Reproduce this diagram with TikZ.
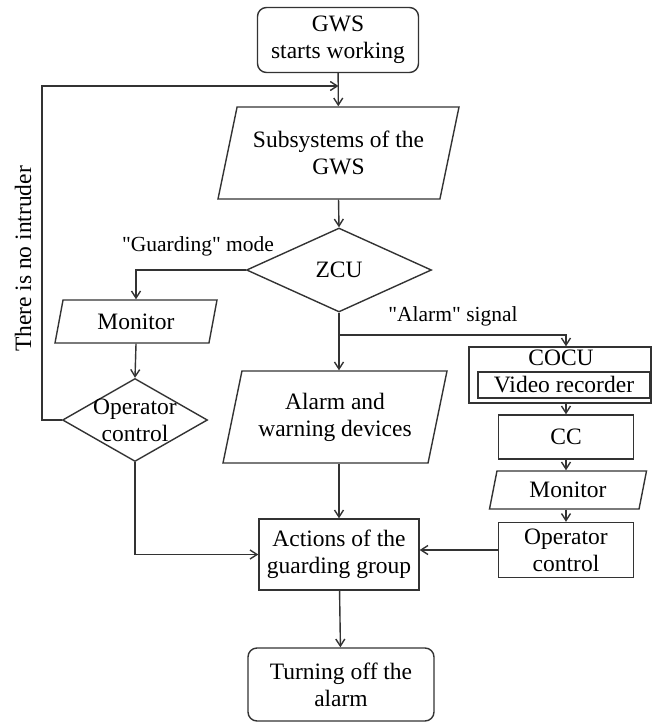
\documentclass[tikz,border=0pt]{standalone}
\usepackage{fontspec}
\setmainfont{Liberation Serif}
\usetikzlibrary{shapes.geometric, arrows.meta}
\newcommand{\boxfont}{\fontsize{23.5}{27}\selectfont}
\newcommand{\lblfont}{\fontsize{21.5}{25}\selectfont}

\begin{document}
\begin{tikzpicture}[x=1pt, y=-1pt, >={Straight Barb[length=7pt, width=9pt]},
    every node/.style={font=\boxfont, align=center, inner sep=0pt},
    term/.style={draw=black!80, line width=1.4pt, rounded corners=9pt},
    proc/.style={draw=black!80, line width=1.4pt, rectangle},
    io/.style={draw=black!80, line width=1.4pt, trapezium, trapezium stretches body},
    decision/.style={draw=black!80, line width=1.4pt, diamond},
    flow/.style={->, draw=black!80, line width=1.4pt},
    lbl/.style={font=\lblfont}]
    \useasboundingbox (0,0) rectangle (653,723);

    % main column
    \node (start) [term, minimum width=161pt, minimum height=65pt] at (338,40) {GWS\\starts working};
    \node (sub) [io, trapezium left angle=66.5, trapezium right angle=113.5,
        minimum width=241pt, minimum height=92pt] at (338.5,153) {Subsystems of the\\GWS};
    \node (zcu) [decision, minimum width=185pt, minimum height=84pt] at (339,270) {ZCU};
    \node (alarm) [io, trapezium left angle=68.6, trapezium right angle=111.4,
        minimum width=224pt, minimum height=92pt] at (335,417) {Alarm and\\warning devices};
    \node (act) [proc, minimum width=160pt, minimum height=71pt] at (339,554.5) {Actions of the\\guarding group};
    \node (stop) [term, minimum width=186pt, minimum height=73pt] at (341,684.5) {Turning off the\\alarm};

    % left branch
    \node (mon1) [io, trapezium left angle=63, trapezium right angle=117,
        minimum width=162pt, minimum height=43pt] at (136,321.5) {Monitor};
    \node (opc) [decision, minimum width=145pt, minimum height=83pt,
        label={[align=center]center:Operator\\control}] at (135,420) {};
    \node (noint) [rotate=90] at (23,259) {There is no intruder};
    \node (guard) [lbl] at (198,246) {\textquotedbl Guarding\textquotedbl\ mode};

    % right branch
    \node (cocu) [proc, minimum width=182pt, minimum height=56pt] at (560,375) {};
    \node (cocutxt) at (561,358) {COCU};
    \node (vrec) [proc, minimum width=172pt, minimum height=26pt] at (564,385) {Video recorder};
    \node (cc) [proc, minimum width=135pt, minimum height=44pt] at (566,437) {CC};
    \node (mon2) [io, trapezium left angle=64.7, trapezium right angle=115.3,
        minimum width=157pt, minimum height=38pt] at (568,490) {Monitor};
    \node (opr) [proc, minimum width=135pt, minimum height=55pt] at (566,550) {Operator\\control};
    \node (alarmsig) [lbl] at (453,316) {\textquotedbl Alarm\textquotedbl\ signal};

    % connectors
    \coordinate (loopin) at (sub.north |- 0,86);
    \coordinate (split) at (zcu.south |- 0,335);
    \draw[flow] (start) -- (sub);
    \draw[flow] (opc.west) -- ++(-20,0) |- (loopin);
    \draw[flow] (sub.south) -- (zcu.north);
    \draw[flow] (zcu.west) -| (mon1.north);
    \draw[flow] (mon1.south) -- (opc.north);
    \draw[flow] (opc.south) |- (act.west);
    \draw[flow] (zcu.south) -- (zcu.south |- alarm.north);
    \draw[flow] (split) -| (cc.north |- cocu.north);
    \draw[flow] (cc.north |- cocu.south) -- (cc.north);
    \draw[flow] (cc.south) -- (cc.south |- mon2.north);
    \draw[flow] (opr.north |- mon2.south) -- (opr.north);
    \draw[flow] (opr.west) -- (opr.west -| act.east);
    \draw[flow] (act.north |- alarm.south) -- (act.north);
    \draw[flow] (act) -- (stop);
\end{tikzpicture}
\end{document}
